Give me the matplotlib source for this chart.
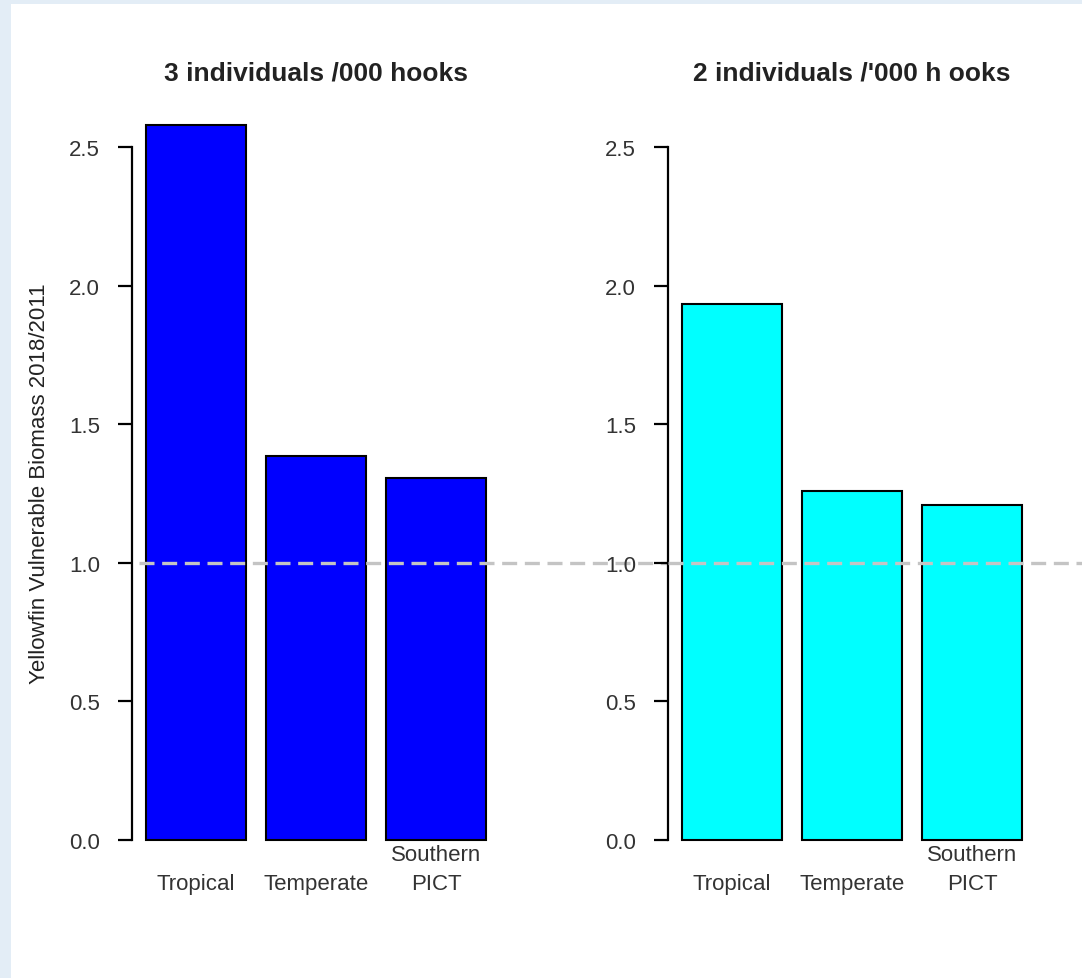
import matplotlib.pyplot as plt
from matplotlib.patches import Rectangle

# data
regions = ["Tropical", "Temperate", "Southern\nPICT"]
biomass_3 = [2.58, 1.385, 1.305]
biomass_2 = [1.935, 1.258, 1.208]
titles = ["3 individuals /000 hooks", "2 individuals /'000 h ooks"]
bar_colors = ["#0000ff", "#00ffff"]
yticks = [0.0, 0.5, 1.0, 1.5, 2.0, 2.5]
ref_level = 1.0

plt.rcParams["font.family"] = ["Liberation Sans", "DejaVu Sans"]

fig = plt.figure(figsize=(10.82, 9.79), dpi=100, facecolor="#e3edf6")
# white panel behind the plots
fig.patches.append(Rectangle((0.0102, 0.0), 0.99, 0.9949, transform=fig.transFigure,
                             facecolor="white", edgecolor="none", zorder=-10))

x_pos = [0.7, 1.9, 3.1]
axes = [fig.add_axes([0.122, 0.1118, 0.340, 0.7886]),
        fig.add_axes([0.6174, 0.1118, 0.340, 0.7886])]

for ax, vals, title, col in zip(axes, [biomass_3, biomass_2], titles, bar_colors):
    ax.set_facecolor("none")
    ax.bar(x_pos, vals, width=1.0, color=col, edgecolor="black", linewidth=1.5, zorder=2)
    ax.set_xlim(0.064, 3.736)
    ax.set_ylim(-0.103, 2.682)
    for s in ["top", "right", "bottom"]:
        ax.spines[s].set_visible(False)
    ax.spines["left"].set_bounds(0, 2.5)
    ax.spines["left"].set_linewidth(1.6)
    ax.set_yticks(yticks)
    ax.set_yticklabels([f"{v:.1f}" for v in yticks], fontsize=16, color="#333333")
    ax.tick_params(axis="y", length=10, width=1.6, pad=13)
    ax.set_xticks(x_pos)
    ax.set_xticklabels(regions, fontsize=16, color="#333333", va="bottom",
                       linespacing=1.45)
    ax.tick_params(axis="x", length=0, pad=18)
    ax.set_title(title, fontsize=19, fontweight="bold", color="#222222", pad=12)

# dashed reference line running across both panels (split so dashes don't overlap)
p0, p1 = axes[0].get_position(), axes[1].get_position()
dash_kw = dict(color="#c4c4c4", linewidth=2.4, linestyle=(0, (4.5, 2.3)),
               clip_on=False, zorder=3)
axes[0].axhline(ref_level, xmin=0.02, xmax=(p1.x0 - p0.x0) / p0.width, **dash_kw)
axes[1].axhline(ref_level, xmin=0.0, xmax=(1 - p1.x0) / p1.width, **dash_kw)

axes[0].set_ylabel("Yellowfin Vulnerable Biomass 2018/2011", fontsize=16,
                   color="#222222", labelpad=14)

fig.savefig("out.png", dpi=100, facecolor=fig.get_facecolor())
